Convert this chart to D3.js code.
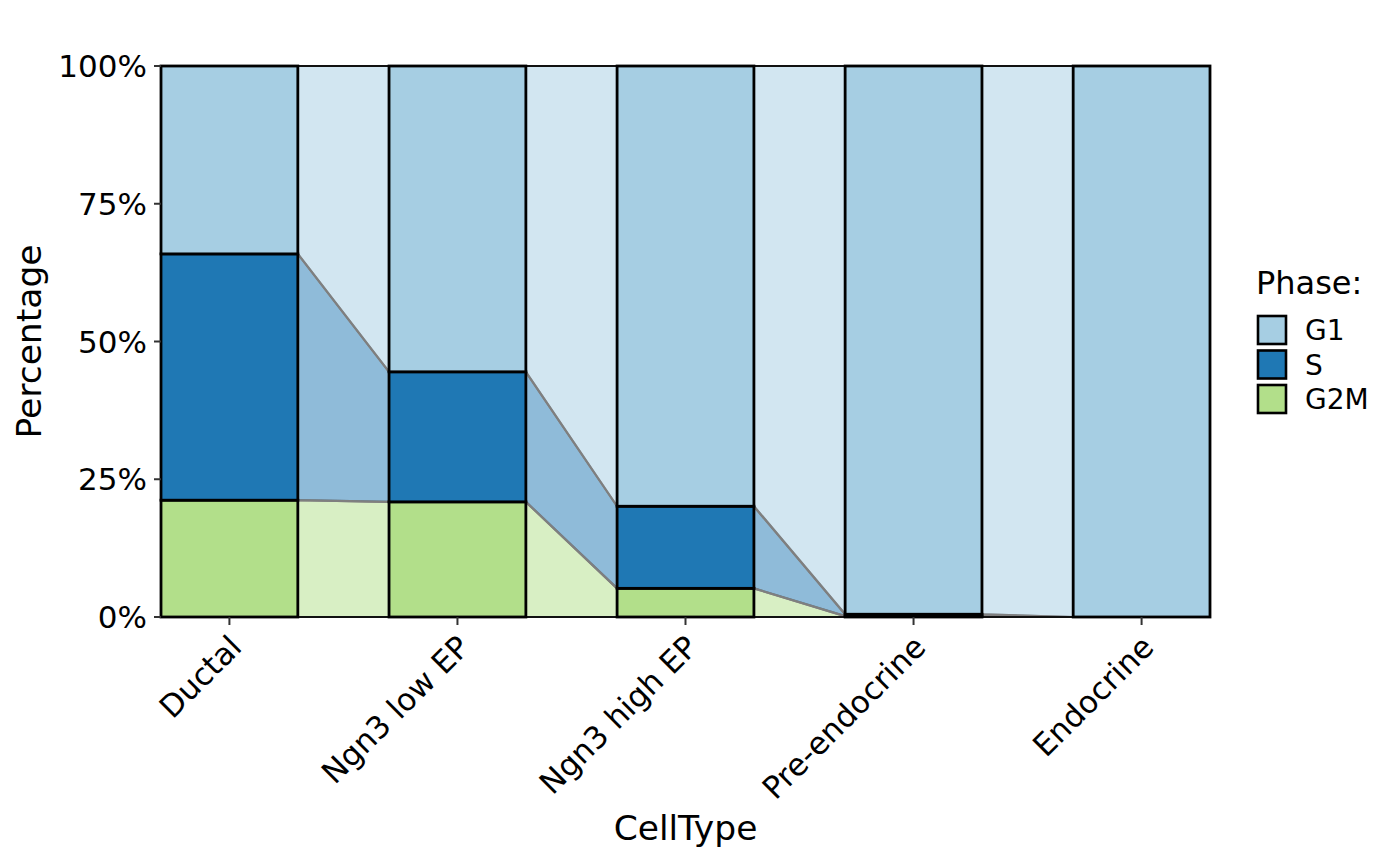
<!DOCTYPE html>
<html>
<head>
<meta charset="utf-8">
<script src="https://cdn.jsdelivr.net/npm/d3@7"></script>
<style>
  html, body { margin: 0; padding: 0; background: #fff; }
  svg { display: block; font-family: "DejaVu Sans", sans-serif; }
</style>
</head>
<body>
<svg id="chart" width="1400" height="866"></svg>
<script>
// ---- data ----
const categories = ["Ductal", "Ngn3 low EP", "Ngn3 high EP", "Pre-endocrine", "Endocrine"];
const phases = ["G1", "S", "G2M"];
const phaseColors = ["#a6cee3", "#1f78b4", "#b2df8a"];
const G1 = [34.1, 55.5, 79.9, 99.5, 100];
const S = [44.7, 23.6, 14.9, 0.35, 0];
const G2M = [21.2, 20.9, 5.2, 0.15, 0];
const yTicks = [0, 25, 50, 75, 100];
const yTickLabels = ["0%", "25%", "50%", "75%", "100%"];
const xTitle = "CellType";
const yTitle = "Percentage";
const legendTitle = "Phase:";

// ---- layout ----
const svg = d3.select("#chart");
const panel = { left: 161, right: 1210, top: 66, bottom: 617 };

const x = d3.scaleBand().domain(categories).range([panel.left, panel.right])
  .paddingInner(0.4).paddingOuter(0);
const y = d3.scaleLinear().domain([0, 100]).range([panel.bottom, panel.top]);
const color = d3.scaleOrdinal().domain(phases).range(phaseColors);

// stack: G2M bottom, S middle, G1 top
const rows = categories.map((c, i) => ({ cat: c, G1: G1[i], S: S[i], G2M: G2M[i] }));
const stack = d3.stack().keys(["G2M", "S", "G1"]);
const series = stack(rows);

// ---- flows between bars ----
const gFlow = svg.append("g");
series.forEach(s => {
  for (let i = 0; i < categories.length - 1; i++) {
    const a = s[i], b = s[i + 1];
    const xa = x(categories[i]) + x.bandwidth();
    const xb = x(categories[i + 1]);
    const pts = [[xa, y(a[0])], [xb, y(b[0])], [xb, y(b[1])], [xa, y(a[1])]];
    gFlow.append("path")
      .attr("d", d3.line()(pts) + "Z")
      .attr("fill", color(s.key))
      .attr("fill-opacity", 0.5)
      .attr("stroke", "#7f7f7f")
      .attr("stroke-width", 2.2)
      .attr("stroke-linejoin", "round");
  }
});

// panel border
svg.append("rect")
  .attr("x", panel.left).attr("y", panel.top)
  .attr("width", panel.right - panel.left).attr("height", panel.bottom - panel.top)
  .attr("fill", "none").attr("stroke", "#111").attr("stroke-width", 2);

// ---- bars ----
const gBars = svg.append("g");
series.forEach(s => {
  gBars.selectAll(null).data(s).enter().append("rect")
    .attr("x", d => x(d.data.cat))
    .attr("width", x.bandwidth())
    .attr("y", d => y(d[1]))
    .attr("height", d => y(d[0]) - y(d[1]))
    .attr("fill", color(s.key))
    .attr("stroke", "#000")
    .attr("stroke-width", 2.8);
});

// ---- y axis ----
const gy = svg.append("g");
yTicks.forEach((t, i) => {
  gy.append("line").attr("x1", panel.left - 7).attr("x2", panel.left)
    .attr("y1", y(t)).attr("y2", y(t)).attr("stroke", "#333").attr("stroke-width", 2);
  gy.append("text").attr("x", panel.left - 14).attr("y", y(t)).attr("dy", "0.36em")
    .attr("text-anchor", "end").attr("font-size", 31).attr("fill", "#000")
    .text(yTickLabels[i]);
});

// ---- x axis ----
const gx = svg.append("g");
categories.forEach(c => {
  const cx = x(c) + x.bandwidth() / 2;
  gx.append("line").attr("x1", cx).attr("x2", cx)
    .attr("y1", panel.bottom).attr("y2", panel.bottom + 8)
    .attr("stroke", "#333").attr("stroke-width", 2);
  gx.append("text")
    .attr("transform", `translate(${cx + 14},${panel.bottom + 32}) rotate(-45)`)
    .attr("text-anchor", "end").attr("font-size", 31).attr("fill", "#000")
    .text(c);
});

// ---- titles ----
svg.append("text").attr("x", (panel.left + panel.right) / 2).attr("y", 840)
  .attr("text-anchor", "middle").attr("font-size", 34.5).attr("fill", "#000").text(xTitle);
svg.append("text").attr("transform", `translate(41,${(panel.top + panel.bottom) / 2}) rotate(-90)`)
  .attr("text-anchor", "middle").attr("font-size", 34.5).attr("fill", "#000").text(yTitle);

// ---- legend ----
const gl = svg.append("g");
gl.append("text").attr("x", 1256).attr("y", 294).attr("font-size", 32).attr("fill", "#000").text(legendTitle);
phases.forEach((p, i) => {
  const ky = 316 + i * 34.5;
  gl.append("rect").attr("x", 1258).attr("y", ky).attr("width", 28).attr("height", 28)
    .attr("fill", color(p)).attr("stroke", "#000").attr("stroke-width", 2.6);
  gl.append("text").attr("x", 1305).attr("y", ky + 14).attr("dy", "0.36em")
    .attr("font-size", 28).attr("fill", "#000").text(p);
});
</script>
</body>
</html>
